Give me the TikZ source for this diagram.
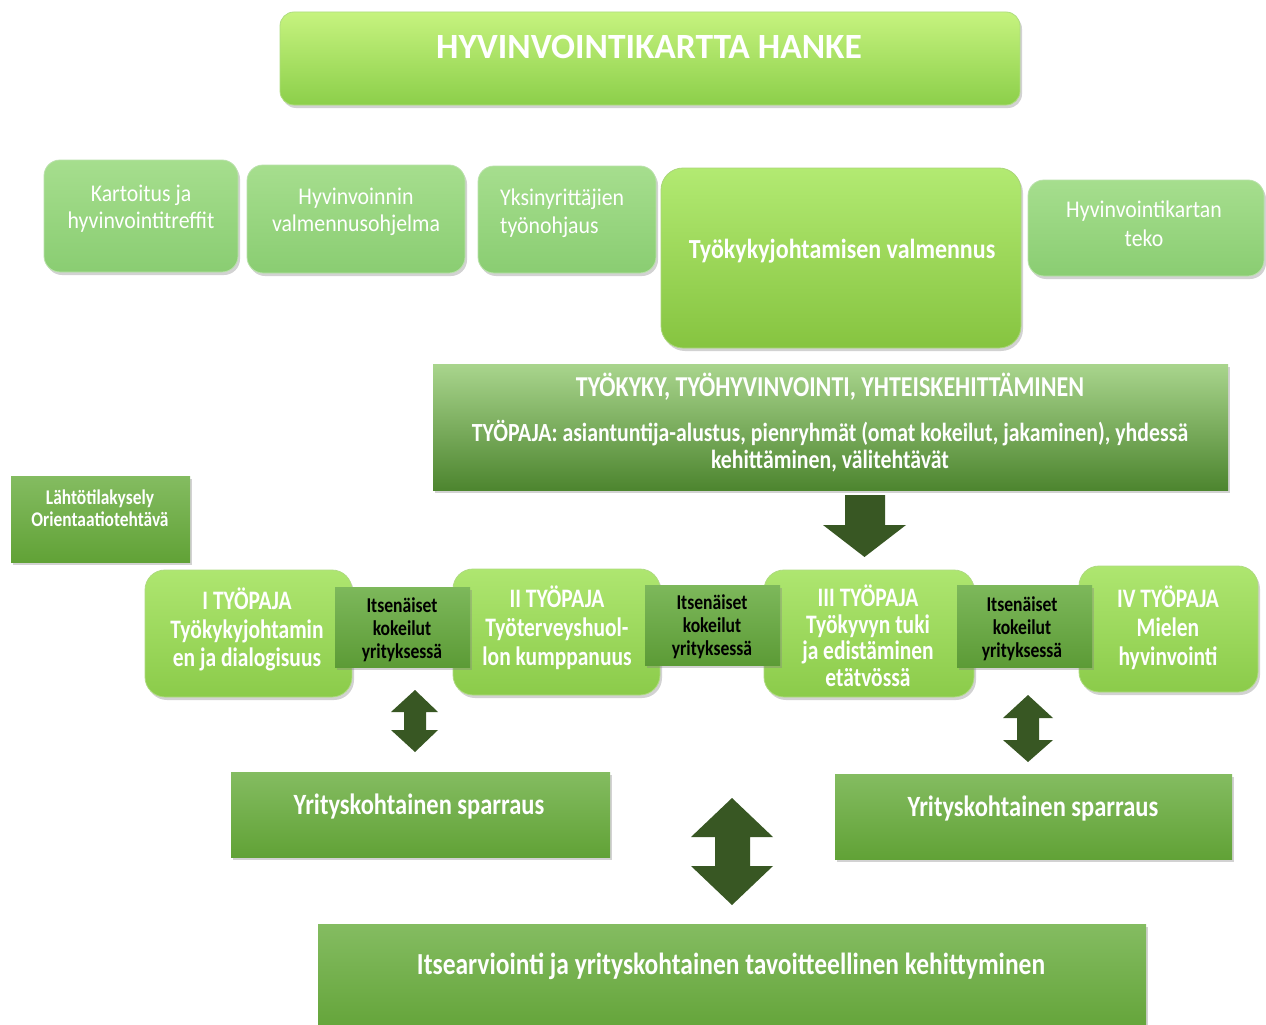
\documentclass[tikz,border=0pt]{standalone}
\usepackage{fontspec}
\usepackage{graphicx}
\setmainfont{Carlito}
\usetikzlibrary{shadows}
\definecolor{tiA}{HTML}{C6F37F}
\definecolor{tiB}{HTML}{8CCF4A}
\definecolor{lgA}{HTML}{A6DE8E}
\definecolor{lgB}{HTML}{8ACD72}
\definecolor{k4A}{HTML}{B2EA72}
\definecolor{k4B}{HTML}{86C440}
\definecolor{wsA}{HTML}{AEE670}
\definecolor{wsB}{HTML}{8BCB4A}
\definecolor{itA}{HTML}{7DB85B}
\definecolor{itB}{HTML}{5C9B36}
\definecolor{mnA}{HTML}{A9D58D}
\definecolor{mnB}{HTML}{4D852F}
\definecolor{spA}{HTML}{84BC61}
\definecolor{spB}{HTML}{61A236}
\definecolor{arr}{HTML}{385723}
\newcommand{\vst}[2]{\scalebox{1}[#1]{\begin{tabular}{@{}c@{}}#2\end{tabular}}}
\newcommand{\vsl}[2]{\scalebox{1}[#1]{\begin{tabular}{@{}l@{}}#2\end{tabular}}}
\begin{document}
\begin{tikzpicture}[x=1pt,y=-1pt,
  shad/.style={drop shadow={opacity=0.35,shadow xshift=2pt,shadow yshift=-3pt}},
  boxbase/.style={inner sep=0pt,outer sep=0pt},
  titlebox/.style={boxbase,rounded corners=14pt,top color=tiA,bottom color=tiB,draw=tiB!70!white,line width=0.8pt,shad},
  lightbox/.style={boxbase,rounded corners=16pt,top color=lgA,bottom color=lgB,draw=lgB!60!white,line width=0.8pt,shad},
  bigbox/.style={boxbase,rounded corners=22pt,top color=k4A,bottom color=k4B,draw=k4B!70!white,line width=0.8pt,shad},
  wsbox/.style={boxbase,rounded corners=20pt,top color=wsA,bottom color=wsB,draw=wsB!70!white,line width=0.8pt,shad},
  itbox/.style={boxbase,top color=itA,bottom color=itB,shad},
  mainbox/.style={boxbase,top color=mnA,bottom color=mnB,shad},
  spbox/.style={boxbase,top color=spA,bottom color=spB,shad},
  ttxt/.style={text=white,align=center,inner sep=0pt},
  wtxt/.style={text=white,align=center,inner sep=0pt,yshift=-3pt},
  btxt/.style={text=black,align=center,inner sep=0pt,yshift=-3pt},
  arrowfill/.style={fill=arr}]
\useasboundingbox (0,0) rectangle (1266,1025);
\fill[white] (0,0) rectangle (1266,1025);

% title
\node[titlebox,minimum width=740pt,minimum height=93pt] (title) at (650,58.5) {};
\node[ttxt,font=\bfseries\fontsize{35.5}{40}\selectfont] (titleT) at (649,46.5) {HYVINVOINTIKARTTA HANKE};

% top row
\node[lightbox,minimum width=194pt,minimum height=112pt] (k1) at (141,216) {};
\node[wtxt,font=\fontsize{21.8}{24.5}\selectfont] (k1T) at (141,206.5) {\vst{1.1}{Kartoitus ja\\hyvinvointitreffit}};
\node[lightbox,minimum width=218pt,minimum height=108pt] (k2) at (356,219) {};
\node[wtxt,font=\fontsize{21.8}{24.5}\selectfont] (k2T) at (356,209.5) {\vst{1.1}{Hyvinvoinnin\\valmennusohjelma}};
\node[lightbox,minimum width=178pt,minimum height=107pt] (k3) at (567,219.5) {};
\node[wtxt,font=\fontsize{21.8}{25.5}\selectfont,anchor=west] (k3T) at (500,211) {\vsl{1.1}{Yksinyrittäjien\\työnohjaus}};
\node[bigbox,minimum width=360pt,minimum height=180pt] (k4) at (841,258) {};
\node[wtxt,font=\bfseries\fontsize{24}{27}\selectfont] (k4T) at (842,249) {\vst{1.15}{Työkykyjohtamisen valmennus}};
\node[lightbox,minimum width=236pt,minimum height=96pt] (k5) at (1146,228) {};
\node[wtxt,font=\fontsize{21.8}{26.4}\selectfont] (k5T) at (1144,223.5) {\vst{1.1}{Hyvinvointikartan\\teko}};

% main box
\node[mainbox,minimum width=795pt,minimum height=126pt] (main) at (830.5,427) {};
\node[wtxt,font=\bfseries\fontsize{24}{26}\selectfont] (mainT1) at (830,386) {\vst{1.2}{TYÖKYKY, TYÖHYVINVOINTI, YHTEISKEHITTÄMINEN}};
\node[wtxt,font=\bfseries\fontsize{21.8}{22.5}\selectfont] (mainT2) at (830,445.5) {\vst{1.2}{TYÖPAJA: asiantuntija-alustus, pienryhmät (omat kokeilut, jakaminen), yhdessä\\kehittäminen, välitehtävät}};

% lahto
\node[spbox,minimum width=179pt,minimum height=86pt] (lahto) at (100.5,519) {};
\node[wtxt,font=\bfseries\fontsize{17.4}{18.3}\selectfont] (lahtoT) at (100,508) {\vst{1.2}{Lähtötilakysely\\Orientaatiotehtävä}};

% workshops
\node[wsbox,minimum width=207pt,minimum height=127pt] (w1) at (248.5,633.5) {};
\node[wsbox,minimum width=207pt,minimum height=126pt] (w2) at (556.5,632) {};
\node[wsbox,minimum width=210pt,minimum height=127pt] (w3) at (869,633.5) {};
\node[wsbox,minimum width=179pt,minimum height=126pt] (w4) at (1168.5,629) {};
\node[itbox,minimum width=135pt,minimum height=80pt] (i1) at (402.5,627) {};
\node[itbox,minimum width=135pt,minimum height=80pt] (i2) at (712.5,625) {};
\node[itbox,minimum width=135pt,minimum height=82pt] (i3) at (1024.5,626) {};

\node[wtxt,font=\bfseries\fontsize{21.5}{23}\selectfont] (w1T) at (247,628.5) {\vst{1.24}{I TYÖPAJA\\Työkykyjohtamin\\en ja dialogisuus}};
\node[wtxt,font=\bfseries\fontsize{21.5}{23.4}\selectfont] (w2T) at (557,627) {\vst{1.24}{II TYÖPAJA\\Työterveyshuol-\\lon kumppanuus}};
\node[wtxt,font=\bfseries\fontsize{21.5}{21.2}\selectfont] (w3T) at (868,636.5) {\vst{1.24}{III TYÖPAJA\\Työkyvyn tuki\\ja edistäminen\\etätvössä}};
\node[wtxt,font=\bfseries\fontsize{21.5}{23.4}\selectfont] (w4T) at (1168,627) {\vst{1.24}{IV TYÖPAJA\\Mielen\\hyvinvointi}};

\node[btxt,font=\bfseries\fontsize{17.6}{19.2}\selectfont] (i1T) at (402,628) {\vst{1.2}{Itsenäiset\\kokeilut\\yrityksessä}};
\node[btxt,font=\bfseries\fontsize{17.6}{19.2}\selectfont] (i2T) at (712,625) {\vst{1.2}{Itsenäiset\\kokeilut\\yrityksessä}};
\node[btxt,font=\bfseries\fontsize{17.6}{19.2}\selectfont] (i3T) at (1022,627) {\vst{1.2}{Itsenäiset\\kokeilut\\yrityksessä}};

% sparraus
\node[spbox,minimum width=379pt,minimum height=85pt] (s1) at (420.5,814.5) {};
\node[wtxt,font=\bfseries\fontsize{24.5}{26}\selectfont] (s1T) at (419,805) {\vst{1.2}{Yrityskohtainen sparraus}};
\node[spbox,minimum width=397pt,minimum height=85pt] (s2) at (1033.5,816.5) {};
\node[wtxt,font=\bfseries\fontsize{24.5}{26}\selectfont] (s2T) at (1033,807) {\vst{1.2}{Yrityskohtainen sparraus}};

% bottom
\node[spbox,minimum width=828pt,minimum height=115pt] (bot) at (732,981.5) {};
\node[wtxt,font=\bfseries\fontsize{25.5}{27}\selectfont] (botT) at (731,965) {\vst{1.2}{Itsearviointi ja yrityskohtainen tavoitteellinen kehittyminen}};

% block arrows
\fill[arrowfill] (845,495) -- (885,495) -- (885,525) -- (906,525) -- (864.5,557) -- (823,525) -- (845,525) -- cycle;
\fill[arrowfill] (415,690) -- (438,712) -- (426,712) -- (426,730) -- (438,730) -- (415,752) -- (391,730) -- (404,730) -- (404,712) -- (391,712) -- cycle;
\fill[arrowfill] (1028,695) -- (1053,718) -- (1039,718) -- (1039,740) -- (1053,740) -- (1028,762) -- (1003,740) -- (1017,740) -- (1017,718) -- (1003,718) -- cycle;
\fill[arrowfill] (732,798) -- (773,837) -- (750,837) -- (750,866) -- (773,866) -- (732,905) -- (691,866) -- (715,866) -- (715,837) -- (691,837) -- cycle;
\end{tikzpicture}
\end{document}
